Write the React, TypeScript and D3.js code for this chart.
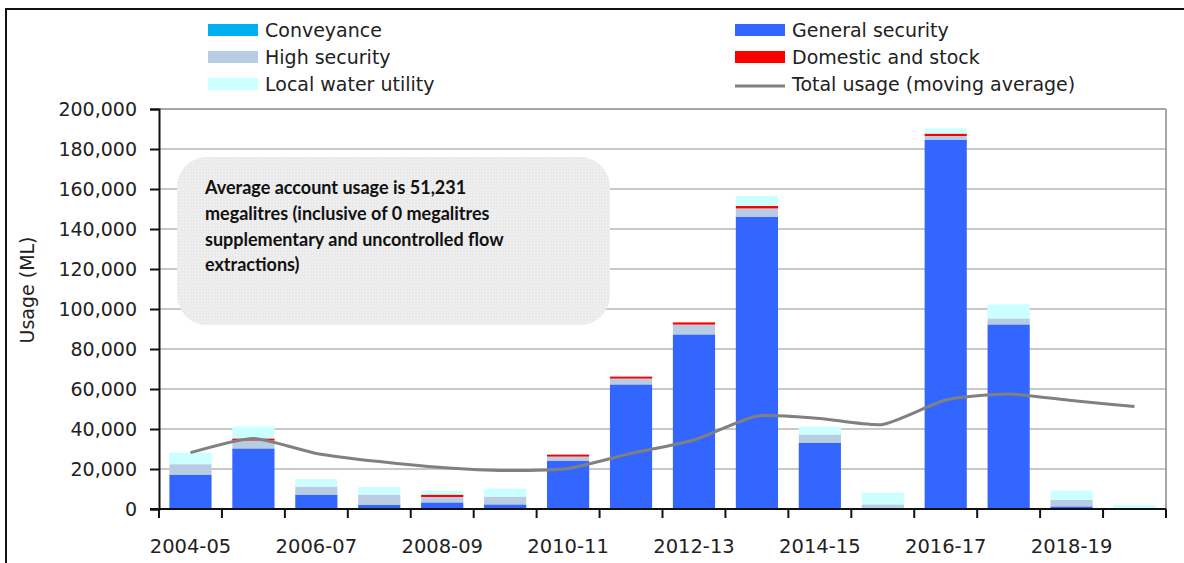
import React, { useRef, useEffect } from "react";
import * as d3 from "d3";

const years = [
  "2004-05", "2005-06", "2006-07", "2007-08", "2008-09", "2009-10", "2010-11", "2011-12",
  "2012-13", "2013-14", "2014-15", "2015-16", "2016-17", "2017-18", "2018-19", "2019-20",
];
const conveyance = [0, 0, 0, 0, 0, 0, 0, 0, 0, 0, 0, 0, 0, 0, 0, 0];
const generalSecurity = [17200, 30300, 7200, 2200, 3300, 2300, 24200, 62300, 87300, 146200, 33200, 300, 184500, 92300, 1300, 0];
const highSecurity = [5200, 3900, 4000, 5000, 2700, 3900, 2000, 2900, 4900, 4100, 4000, 2000, 2000, 3000, 3200, 500];
const domesticStock = [0, 1100, 0, 0, 1200, 0, 1100, 1100, 1100, 1200, 0, 0, 1200, 0, 0, 0];
const localWater = [5800, 6000, 3800, 3800, 2000, 4000, 300, 300, 0, 5000, 4000, 5900, 2600, 7000, 4700, 1500];
const movingAverage = [28200, 35300, 27800, 23700, 20700, 19200, 20300, 27800, 34500, 46500, 45300, 42300, 54500, 57500, 54200, 51231];
const yTicks = [0, 20000, 40000, 60000, 80000, 100000, 120000, 140000, 160000, 180000, 200000];
const labelledYears = ["2004-05", "2006-07", "2008-09", "2010-11", "2012-13", "2014-15", "2016-17", "2018-19"];

const seriesNames = ["Conveyance", "General security", "High security", "Domestic and stock", "Local water utility"];
const seriesColors = ["#00B0F0", "#3366FF", "#B8CCE4", "#FF0000", "#CCFFFF"];
const noteLines = [
  "Average account usage is 51,231",
  "megalitres (inclusive of 0 megalitres",
  "supplementary and uncontrolled flow",
  "extractions)",
];

const App: React.FC = () => {
  const svgRef = useRef<SVGSVGElement>(null);

  useEffect(() => {
    const svg = d3.select(svgRef.current);
    svg.selectAll("*").remove();
    const width = 1184;
    const height = 563;
    const margin = { top: 109, right: 18, bottom: 54, left: 159 };
    const font = "'DejaVu Sans', sans-serif";

    // dotted fill for the note box
    const pat = svg.append("defs").append("pattern")
      .attr("id", "dots").attr("width", 3).attr("height", 3)
      .attr("patternUnits", "userSpaceOnUse");
    pat.append("rect").attr("width", 3).attr("height", 3).attr("fill", "#ebebeb");
    pat.append("rect").attr("width", 1).attr("height", 1).attr("fill", "#f7f7f7");

    // outer frame
    svg.append("rect")
      .attr("x", 6).attr("y", 9)
      .attr("width", width + 10).attr("height", height + 10)
      .attr("fill", "white").attr("stroke", "#111").attr("stroke-width", 2);

    const x = d3.scaleBand()
      .domain(years)
      .range([margin.left, width - margin.right])
      .paddingInner(0.33)
      .paddingOuter(0.165);
    const step = x.step();
    const y = d3.scaleLinear().domain([0, 200000]).range([height - margin.bottom, margin.top]);

    const rows = years.map((yr, i) => ({
      year: yr,
      "Conveyance": conveyance[i],
      "General security": generalSecurity[i],
      "High security": highSecurity[i],
      "Domestic and stock": domesticStock[i],
      "Local water utility": localWater[i],
    }));
    const stacked = d3.stack<any>().keys(seriesNames)(rows);

    // gridlines
    svg.append("g")
      .selectAll("line")
      .data(yTicks.filter((t) => t > 0))
      .enter()
      .append("line")
      .attr("x1", margin.left).attr("x2", width - margin.right)
      .attr("y1", (d) => y(d)).attr("y2", (d) => y(d))
      .attr("stroke", (d) => (d === 200000 ? "#a6a6a6" : "#c8c8c8"))
      .attr("stroke-width", 2);
    svg.append("line")
      .attr("x1", width - margin.right).attr("x2", width - margin.right)
      .attr("y1", margin.top).attr("y2", y(0))
      .attr("stroke", "#a6a6a6").attr("stroke-width", 2);

    // note box
    svg.append("rect")
      .attr("x", 177).attr("y", 157)
      .attr("width", 433).attr("height", 168)
      .attr("rx", 30).attr("ry", 30)
      .attr("fill", "url(#dots)");
    svg.append("text")
      .attr("x", 205).attr("y", 194)
      .attr("font-family", "Lato, sans-serif")
      .attr("font-weight", "bold")
      .attr("font-size", 18)
      .attr("fill", "#111")
      .selectAll("tspan")
      .data(noteLines)
      .enter()
      .append("tspan")
      .attr("x", 205)
      .attr("dy", (_d, i) => (i === 0 ? 0 : 25.8))
      .text((d) => d);

    // bars
    svg.append("g")
      .selectAll("g")
      .data(stacked)
      .enter()
      .append("g")
      .attr("fill", (_d, i) => seriesColors[i])
      .selectAll("rect")
      .data((d) => d)
      .enter()
      .append("rect")
      .attr("x", (d: any) => x(d.data.year)!)
      .attr("y", (d) => y(d[1]))
      .attr("width", x.bandwidth())
      .attr("height", (d) => y(d[0]) - y(d[1]));

    // moving average line
    const line = d3.line<number>()
      .x((_d, i) => x(years[i])! + x.bandwidth() / 2)
      .y((d) => y(d))
      .curve(d3.curveCardinal.tension(0.4));
    svg.append("path")
      .datum(movingAverage)
      .attr("d", line)
      .attr("fill", "none")
      .attr("stroke", "#808080")
      .attr("stroke-width", 3);

    // y axis
    const yAxis = svg.append("g")
      .attr("transform", `translate(${margin.left},0)`)
      .call(d3.axisLeft(y).tickValues(yTicks).tickSize(9).tickPadding(13).tickFormat(d3.format(",")));
    yAxis.select(".domain").attr("stroke", "#111").attr("stroke-width", 2);
    yAxis.selectAll(".tick line").attr("stroke", "#111").attr("stroke-width", 2);
    yAxis.selectAll("text").attr("font-family", font).attr("font-size", 19).attr("fill", "#222");

    // x axis
    const boundaries = years.map((_d, i) => margin.left + i * step).concat([width - margin.right]);
    const xg = svg.append("g");
    xg.append("line")
      .attr("x1", margin.left - 9).attr("x2", width - margin.right)
      .attr("y1", y(0)).attr("y2", y(0))
      .attr("stroke", "#111").attr("stroke-width", 2);
    xg.selectAll(".tk")
      .data(boundaries)
      .enter()
      .append("line")
      .attr("x1", (d) => d).attr("x2", (d) => d)
      .attr("y1", y(0)).attr("y2", y(0) + 9)
      .attr("stroke", "#111").attr("stroke-width", 2);
    xg.selectAll(".lbl")
      .data(labelledYears)
      .enter()
      .append("text")
      .attr("x", (d) => x(d)! + x.bandwidth() / 2)
      .attr("y", 553)
      .attr("text-anchor", "middle")
      .attr("font-family", font).attr("font-size", 19.5).attr("fill", "#222")
      .text((d) => d);

    // y title
    svg.append("text")
      .attr("transform", `translate(34,290) rotate(-90)`)
      .attr("text-anchor", "middle")
      .attr("font-family", font).attr("font-size", 19).attr("fill", "#222")
      .text("Usage (ML)");

    // legend
    const legendItems = [
      { name: "Conveyance", color: seriesColors[0], col: 0, row: 0, kind: "rect" },
      { name: "General security", color: seriesColors[1], col: 1, row: 0, kind: "rect" },
      { name: "High security", color: seriesColors[2], col: 0, row: 1, kind: "rect" },
      { name: "Domestic and stock", color: seriesColors[3], col: 1, row: 1, kind: "rect" },
      { name: "Local water utility", color: seriesColors[4], col: 0, row: 2, kind: "rect" },
      { name: "Total usage (moving average)", color: "#808080", col: 1, row: 2, kind: "line" },
    ];
    const colX = [208, 735];
    const rowY = [30, 57, 84];
    const lg = svg.append("g").selectAll("g").data(legendItems).enter().append("g")
      .attr("transform", (d) => `translate(${colX[d.col]},${rowY[d.row]})`);
    lg.filter((d) => d.kind === "rect").append("rect")
      .attr("x", 0).attr("y", -6).attr("width", 50).attr("height", 12)
      .attr("fill", (d) => d.color);
    lg.filter((d) => d.kind === "line").append("line")
      .attr("x1", 0).attr("x2", 50).attr("y1", 2).attr("y2", 2)
      .attr("stroke", (d) => d.color).attr("stroke-width", 3);
    lg.append("text")
      .attr("x", 57).attr("y", 7)
      .attr("font-family", font).attr("font-size", 19).attr("fill", "#222")
      .text((d) => d.name);
  }, []);

  return (
    <svg
      ref={svgRef}
      width={1184}
      height={563}
      style={{ position: "absolute", left: 0, top: 0, background: "white" }}
    ></svg>
  );
};

export default App;
